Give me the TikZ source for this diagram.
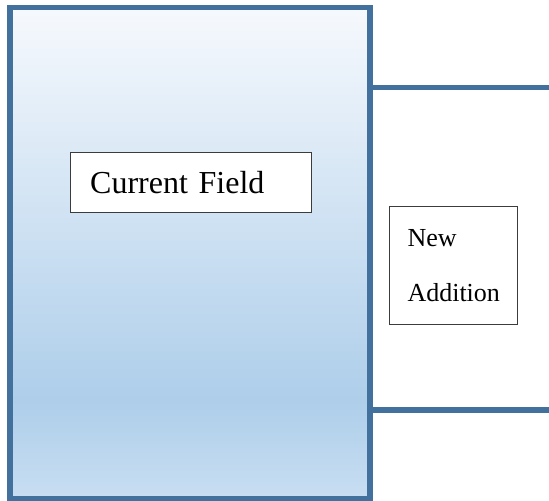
\documentclass[tikz,border=0pt]{standalone}
\usepackage{fontspec}
\setmainfont{Liberation Serif}

\definecolor{fieldline}{RGB}{66,113,157}
\definecolor{fieldtop}{RGB}{246,249,253}
\definecolor{fielddark}{RGB}{174,206,234}
\definecolor{fieldbot}{RGB}{200,222,242}
\definecolor{boxline}{RGB}{60,60,60}
\pgfdeclareverticalshading{fieldshade}{100bp}{color(0bp)=(fieldbot); color(25bp)=(fieldbot); color(35bp)=(fielddark); color(75bp)=(fieldtop); color(100bp)=(fieldtop)}

\begin{document}
\begin{tikzpicture}[x=0.75pt, y=-0.75pt,
    wall/.style={draw=fieldline, line width=3.9pt},
    areabox/.style={draw=boxline, line width=1.1pt, fill=white, anchor=north west, align=left}]
      \useasboundingbox (0,0) rectangle (549,500);

      % current field
      \draw[wall, shade, shading=fieldshade] (10,7.5) rectangle (370,498.5);
      \node[areabox, minimum width=180.75pt, minimum height=45pt, inner xsep=15pt,
            text width=150.75pt, font=\fontsize{24pt}{28pt}\selectfont]
            (current) at (69.5,152) {Current Field};

      % new addition
      \coordinate (topjoin) at (370,87.5);
      \coordinate (topend) at (549,87.5);
      \coordinate (botjoin) at (370,410);
      \coordinate (botend) at (549,410);
      \draw[wall] (topjoin) -- (topend);
      \draw[wall] (botjoin) -- (botend);
      \node[areabox, minimum width=96pt, minimum height=88.5pt, inner sep=0pt,
            font=\fontsize{19.5pt}{41.25pt}\selectfont]
            (addition) at (389,206) {New\\Addition};
    \end{tikzpicture}
\end{document}
